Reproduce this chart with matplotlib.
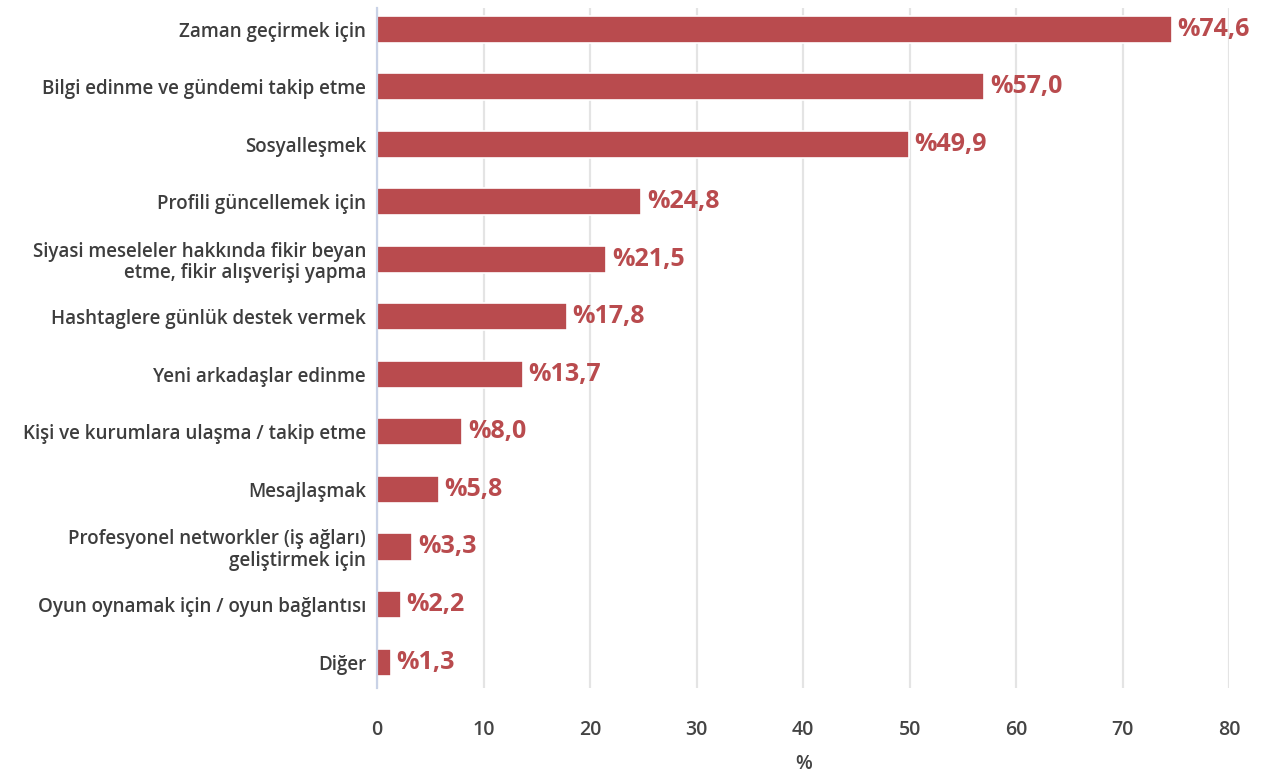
import matplotlib.pyplot as plt

categories = [
    "Zaman geçirmek için",
    "Bilgi edinme ve gündemi takip etme",
    "Sosyalleşmek",
    "Profili güncellemek için",
    "Siyasi meseleler hakkında fikir beyan\netme, fikir alışverişi yapma",
    "Hashtaglere günlük destek vermek",
    "Yeni arkadaşlar edinme",
    "Kişi ve kurumlara ulaşma / takip etme",
    "Mesajlaşmak",
    "Profesyonel networkler (iş ağları)\ngeliştirmek için",
    "Oyun oynamak için / oyun bağlantısı",
    "Diğer",
]
values = [74.6, 57.0, 49.9, 24.8, 21.5, 17.8, 13.7, 8.0, 5.8, 3.3, 2.2, 1.3]
xticks = [0, 10, 20, 30, 40, 50, 60, 70, 80]

red = "#b94b4e"
plt.rcParams['font.family'] = ['Open Sans', 'DejaVu Sans']

fig = plt.figure(figsize=(12.7, 7.8), dpi=100)
ax = fig.add_axes([0.297, 0.118, 0.671, 0.872])

ypos = list(range(len(categories)))
ax.barh(ypos, values, height=0.47, color=red, edgecolor="white", linewidth=1.2, zorder=3)

for y, v in zip(ypos, values):
    ax.annotate("%" + f"{v:.1f}".replace(".", ","), (v, y), xytext=(4, 0),
                textcoords="offset points", va="center", ha="left",
                fontsize=18, fontweight="bold", color=red, zorder=4)

ax.set_yticks(ypos)
ax.set_yticklabels(categories, fontsize=13.5, fontweight="semibold", color="#3d3d3d",
                   linespacing=1.1, ha="right")
ax.set_ylim(11.45, -0.37)
ax.set_xlim(0, 80)
ax.set_xticks(xticks)
ax.set_xticklabels([str(t) for t in xticks], fontsize=14, fontweight="semibold",
                   color="#444444")
ax.set_xlabel("%", fontsize=14, fontweight="semibold", color="#444444", labelpad=10)

ax.grid(axis="x", color="#e4e4e4", linewidth=1.6, zorder=0)
ax.tick_params(axis="both", length=0)
ax.tick_params(axis="x", pad=23)
ax.tick_params(axis="y", pad=8)
for s in ["top", "right", "bottom"]:
    ax.spines[s].set_visible(False)
ax.spines["left"].set_color("#c9d2e6")
ax.spines["left"].set_linewidth(1.6)
ax.spines["left"].set_zorder(5)

fig.savefig("out.png", dpi=100)
